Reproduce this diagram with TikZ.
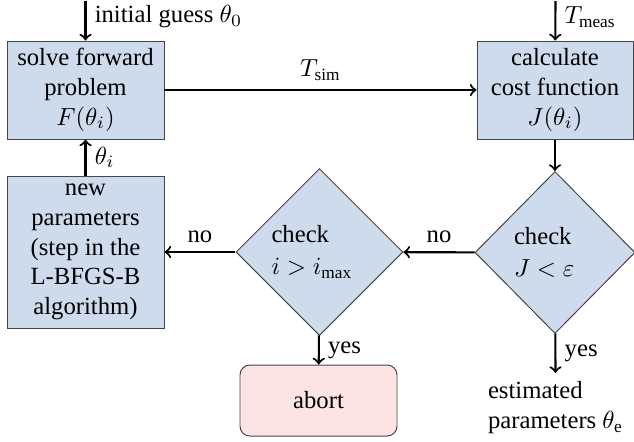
\documentclass[tikz,border=0pt]{standalone}
\usepackage{fontspec}
\setmainfont{Liberation Serif}
\usetikzlibrary{shapes.geometric}
\definecolor{procfill}{RGB}{206,219,237}
\definecolor{stopfill}{RGB}{253,228,228}
\definecolor{edgegray}{RGB}{70,70,70}
\begin{document}
\begin{tikzpicture}[x=0.405pt,y=-0.405pt,
  font=\rmfamily\fontsize{10}{12}\selectfont,
  proc/.style={draw=edgegray, fill=procfill, line width=0.4pt, align=center,
    minimum width=157*0.405pt, minimum height=98*0.405pt, inner sep=1pt},
  decision/.style={diamond, draw=edgegray, fill=procfill, line width=0.4pt,
    align=left, inner sep=0pt},
  term/.style={draw=edgegray, fill=stopfill, line width=0.4pt, rounded corners=4pt,
    minimum width=157*0.405pt, minimum height=71*0.405pt},
  arr/.style={->, line width=0.85pt, black}]
\useasboundingbox (0,0) rectangle (634,441);

% process boxes
\node[proc] (solve) at (85.5,90) {solve forward\\problem\\$F(\theta_i)$};
\node[proc, minimum width=156*0.405pt] (cost) at (555,90) {calculate\\cost function\\$J(\theta_i)$};
\node[proc, minimum height=152*0.405pt] (update) at (85.5,252)
  {new\\parameters\\(step in the\\L-BFGS-B\\algorithm)};

% decisions
\node[decision, text width=96*0.405pt, minimum width=167*0.405pt, minimum height=167*0.405pt]
  (iter) at (319.5,252) {check\\[1pt]$i>i_{\mathrm{max}}$};
\node[decision, text width=82*0.405pt, minimum width=160*0.405pt, minimum height=162*0.405pt]
  (conv) at (555,252.5) {check\\[1pt]$J<\varepsilon$};

% terminal
\node[term] (abort) at (318.5,400.5) {abort};

% free ends
\coordinate (init) at (85.5,1);
\coordinate (meas) at (555.5,1);
\coordinate (done) at (555.5,373);

% connectors
\draw[arr] (init) -- node[right, pos=0.4] {initial guess $\theta_0$} (solve);
\draw[arr] (meas) -- node[right, pos=0.4] {$T_{\mathrm{meas}}$} (cost);
\draw[arr] (solve) -- node[above] {$T_{\mathrm{sim}}$} (cost);
\draw[arr] (cost) -- (conv);
\draw[arr] (conv) -- node[above] {no} (iter);
\draw[arr] (iter) -- node[above] {no} (update);
\draw[arr] (update) -- node[right] {$\theta_i$} (solve);
\draw[arr] (iter) -- node[right] {yes} (abort);
\draw[arr] (conv) -- node[right] {yes} (done);
\node[below, align=left] (result) at (done) {estimated\\parameters $\theta_{\mathrm{e}}$};
\end{tikzpicture}
\end{document}
